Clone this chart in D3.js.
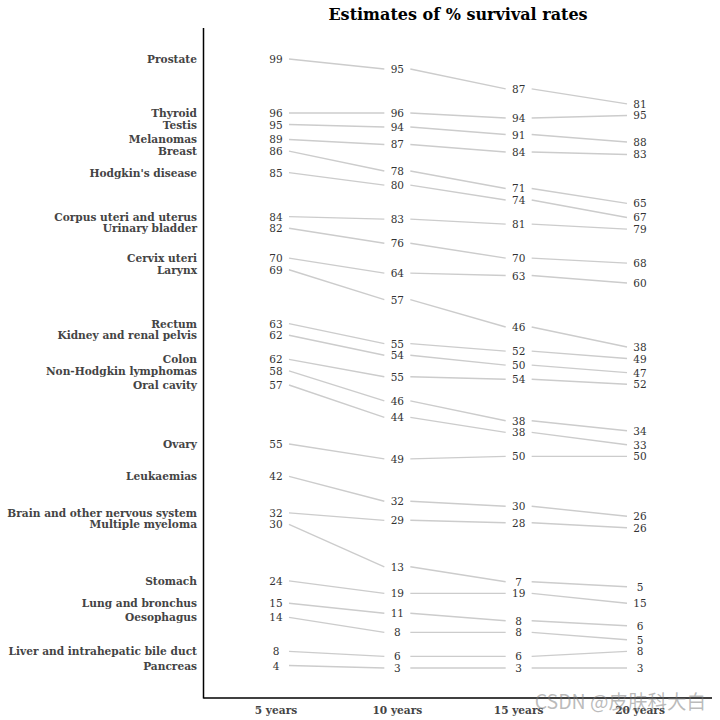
<!DOCTYPE html>
<html>
<head>
<meta charset="utf-8">
<script src="https://cdn.jsdelivr.net/npm/d3@7"></script>
<style>
  html, body { margin: 0; padding: 0; background: #fff; }
  svg { display: block; }
</style>
</head>
<body>
<svg id="chart" width="720" height="720"></svg>
<script>
// ---- data ----
const cancers = [
  "Prostate", "Thyroid", "Testis", "Melanomas", "Breast", "Hodgkin's disease",
  "Corpus uteri and uterus", "Urinary bladder", "Cervix uteri", "Larynx",
  "Rectum", "Kidney and renal pelvis", "Colon", "Non-Hodgkin lymphomas",
  "Oral cavity", "Ovary", "Leukaemias", "Brain and other nervous system",
  "Multiple myeloma", "Stomach", "Lung and bronchus", "Oesophagus",
  "Liver and intrahepatic bile duct", "Pancreas"
];
const periods = ["5 years", "10 years", "15 years", "20 years"];
const year5  = [99, 96, 95, 89, 86, 85, 84, 82, 70, 69, 63, 62, 62, 58, 57, 55, 42, 32, 30, 24, 15, 14, 8, 4];
const year10 = [95, 96, 94, 87, 78, 80, 83, 76, 64, 57, 55, 54, 55, 46, 44, 49, 32, 29, 13, 19, 11, 8, 6, 3];
const year15 = [87, 94, 91, 84, 71, 74, 81, 70, 63, 46, 52, 50, 54, 38, 38, 50, 30, 28, 7, 19, 8, 8, 6, 3];
const year20 = [81, 95, 88, 83, 65, 67, 79, 68, 60, 38, 49, 47, 52, 34, 33, 50, 26, 26, 5, 15, 6, 5, 8, 3];
const titleText = "Estimates of % survival rates";

// ---- layout ----
const series = [year5, year10, year15, year20];
const rows = cancers.map((name, i) => ({ name, values: series.map(s => s[i]) }));

const axisX = 203.5, axisTop = 28, axisBottom = 698;
const plotTop = 59, plotBottom = 668;
const labelGapPx = 11.6;

// Slopegraph: each row keeps its slopes; the cumulative downward shift only grows,
// just enough for the row to sit below the previous one in every column.
function layout(gap) {
  let prev = null, off = 0;
  return rows.map(r => {
    if (prev) {
      const need = d3.max(r.values.map((v, c) => v - prev.pos[c] + gap));
      off = Math.max(off, need);
    }
    const pos = r.values.map(v => v - off);
    prev = { pos };
    return { ...r, pos };
  });
}
function spanOf(lay) {
  const all = lay.flatMap(d => d.pos);
  return [d3.min(all), d3.max(all)];
}
// find gap (data units) that corresponds to labelGapPx on screen
let lo = 0, hi = 60;
for (let it = 0; it < 60; it++) {
  const g = (lo + hi) / 2;
  const [mn, mx] = spanOf(layout(g));
  const k = (plotBottom - plotTop) / (mx - mn);
  if (g * k > labelGapPx) hi = g; else lo = g;
}
const gap = (lo + hi) / 2;
const placed = layout(gap);
const [pMin, pMax] = spanOf(placed);

const y = d3.scaleLinear().domain([pMin, pMax]).range([plotBottom, plotTop]);
const x = d3.scalePoint().domain(periods).range([276, 640]);

const svg = d3.select("#chart");

// title
svg.append("text")
  .attr("x", 458).attr("y", 14.5)
  .attr("text-anchor", "middle").attr("dominant-baseline", "central")
  .attr("font-family", "DejaVu Serif").attr("font-weight", "bold")
  .attr("font-size", 16).attr("fill", "#000")
  .text(titleText);

// axis lines
svg.append("line")
  .attr("x1", axisX).attr("x2", axisX).attr("y1", axisTop).attr("y2", axisBottom + 0.5)
  .attr("stroke", "#000").attr("stroke-width", 1.5);
svg.append("line")
  .attr("x1", axisX).attr("x2", 712).attr("y1", axisBottom).attr("y2", axisBottom)
  .attr("stroke", "#000").attr("stroke-width", 1.5);

// connecting segments
const segPad = 13;
const segs = [];
placed.forEach(d => {
  for (let c = 0; c < periods.length - 1; c++) {
    segs.push({ x1: x(periods[c]) + segPad, y1: y(d.pos[c]), x2: x(periods[c + 1]) - segPad, y2: y(d.pos[c + 1]) });
  }
});
svg.append("g").selectAll("line").data(segs).join("line")
  .attr("x1", d => d.x1).attr("y1", d => d.y1)
  .attr("x2", d => d.x2).attr("y2", d => d.y2)
  .attr("stroke", "#cccccc").attr("stroke-width", 1.4);

// row labels
svg.append("g").selectAll("text").data(placed).join("text")
  .attr("x", 197).attr("y", d => y(d.pos[0]))
  .attr("text-anchor", "end").attr("dominant-baseline", "central")
  .attr("font-family", "DejaVu Serif").attr("font-weight", "bold")
  .attr("font-size", 10.6).attr("fill", "#444")
  .text(d => d.name);

// numbers
const nums = [];
placed.forEach(d => d.values.forEach((v, c) => nums.push({ v, c, p: d.pos[c] })));
svg.append("g").selectAll("text").data(nums).join("text")
  .attr("x", d => x(periods[d.c])).attr("y", d => y(d.p))
  .attr("text-anchor", "middle").attr("dominant-baseline", "central")
  .attr("font-family", "DejaVu Serif")
  .attr("font-size", 10.5).attr("fill", "#333")
  .text(d => d.v);

// column labels
svg.append("g").selectAll("text").data(periods).join("text")
  .attr("x", d => x(d)).attr("y", 710)
  .attr("text-anchor", "middle").attr("dominant-baseline", "central")
  .attr("font-family", "DejaVu Serif").attr("font-weight", "bold")
  .attr("font-size", 10.6).attr("fill", "#444")
  .text(d => d);

// watermark
svg.append("text")
  .attr("x", 706).attr("y", 700)
  .attr("text-anchor", "end").attr("dominant-baseline", "central")
  .attr("font-family", "Noto Sans CJK SC, Noto Sans, sans-serif")
  .attr("font-size", 19.5).attr("fill", "rgba(120,120,120,0.5)")
  .text("CSDN @皮肤科大白");
</script>
</body>
</html>
